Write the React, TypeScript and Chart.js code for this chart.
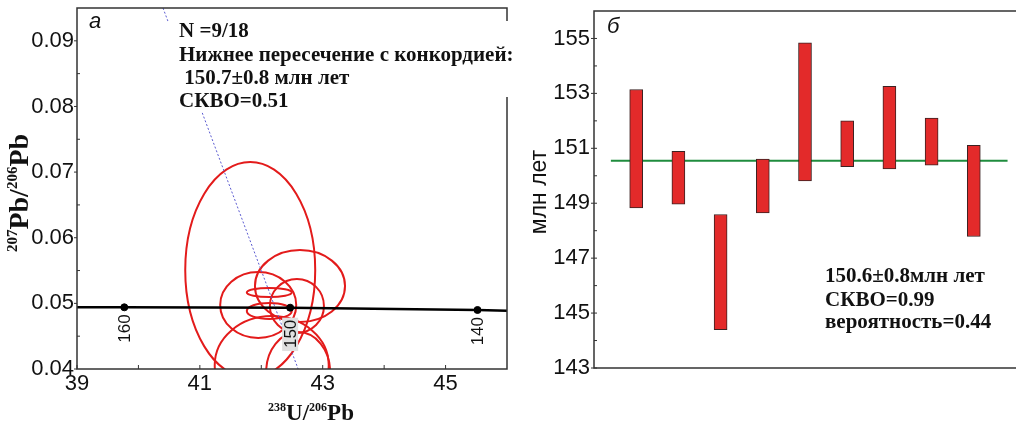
import React, { useEffect, useRef } from "react";
import { Chart, registerables } from "chart.js";

Chart.register(...registerables);

// ---------- Panel а : concordia diagram ----------
const xMajorA = [39, 41, 43, 45];
const xMinorA = [40, 42, 44];
const yMajorA = [0.04, 0.05, 0.06, 0.07, 0.08, 0.09];
const yMinorA = [0.045, 0.055, 0.065, 0.075, 0.085];

// error ellipses: centre (238U/206Pb, 207Pb/206Pb) and half-axes
const ellipseX = [41.82, 42.63, 41.95, 42.13, 42.13, 42.58, 42.17, 42.6];
const ellipseY = [0.05508, 0.05264, 0.04975, 0.05165, 0.04884, 0.0496, 0.0406, 0.03954];
const ellipseRX = [1.058, 0.733, 0.619, 0.366, 0.366, 0.44, 0.928, 0.521];
const ellipseRY = [0.01645, 0.00548, 0.00503, 0.00069, 0.00122, 0.00411, 0.00746, 0.00609];

const concordiaX = [39, 39.77, 42.47, 45.52, 46];
const concordiaY = [0.0494, 0.0494, 0.04934, 0.04899, 0.04888];
const ageMarkX = [39.77, 42.47, 45.52];
const ageMarkY = [0.0494, 0.04934, 0.04899];
const ageLabels = ["160", "150", "140"];
const shadedAge = "150";
const discordiaX = [40.4, 42.6];
const discordiaY = [0.095, 0.04];
const statsA = ["N =9/18", "Нижнее пересечение с конкордией:", " 150.7±0.8 млн лет", "СКВО=0.51"];

// ---------- Panel б : weighted mean ----------
const analysisIndex = [1, 2, 3, 4, 5, 6, 7, 8, 9];
const ageLow = [148.83, 148.97, 144.4, 148.65, 149.81, 150.33, 150.25, 150.39, 147.79];
const ageHigh = [153.14, 150.89, 148.59, 150.61, 154.84, 152.0, 153.26, 152.1, 151.11];
const weightedMean = 150.55;
const meanSpan = [0.4, 9.8];
const yMajorB = [143, 145, 147, 149, 151, 153, 155];
const yMinorB = [144, 146, 148, 150, 152, 154];
const statsB = ["150.6±0.8млн лет", "СКВО=0.99", "вероятность=0.44"];

const SANS = '"Liberation Sans", Arial, sans-serif';
const SERIF = '"Liberation Serif", "Times New Roman", serif';

function drawSup(ctx: CanvasRenderingContext2D, parts: [string, boolean][], x: number, y: number, main: string, sup: string, rise: number) {
  let w = 0;
  parts.forEach(([t, s]) => { ctx.font = s ? sup : main; w += ctx.measureText(t).width; });
  let cx = x - w / 2;
  ctx.textAlign = "left";
  ctx.textBaseline = "alphabetic";
  parts.forEach(([t, s]) => {
    ctx.font = s ? sup : main;
    ctx.fillText(t, cx, s ? y - rise : y);
    cx += ctx.measureText(t).width;
  });
}

const noPad = (s: any) => {
  s.paddingTop = 0;
  s.paddingBottom = 0;
  s.paddingLeft = 0;
  s.paddingRight = 0;
};

const panelAPlugin = {
  id: "panelA",
  beforeDatasetsDraw(chart: any) {
    const { ctx, chartArea: ca, scales } = chart;
    const x = scales.x, y = scales.y;
    ctx.save();
    ctx.beginPath();
    ctx.rect(ca.left, ca.top, ca.right - ca.left, ca.bottom - ca.top);
    ctx.clip();
    ctx.strokeStyle = "#e31b1b";
    ctx.lineWidth = 2;
    ellipseX.forEach((cx, i) => {
      const px = x.getPixelForValue(cx);
      const py = y.getPixelForValue(ellipseY[i]);
      const rx = Math.abs(x.getPixelForValue(cx + ellipseRX[i]) - px);
      const ry = Math.abs(y.getPixelForValue(ellipseY[i] + ellipseRY[i]) - py);
      ctx.beginPath();
      ctx.ellipse(px, py, rx, ry, 0, 0, Math.PI * 2);
      ctx.stroke();
    });
    ctx.restore();
  },
  afterDraw(chart: any) {
    const { ctx, chartArea: ca, scales } = chart;
    const x = scales.x, y = scales.y;
    ctx.save();
    // frame
    ctx.strokeStyle = "#333";
    ctx.lineWidth = 1.5;
    ctx.strokeRect(ca.left, ca.top, ca.right - ca.left, ca.bottom - ca.top);
    // ticks
    ctx.lineWidth = 1;
    ctx.beginPath();
    xMajorA.concat(xMinorA).forEach((v) => {
      const px = x.getPixelForValue(v);
      ctx.moveTo(px, ca.bottom);
      ctx.lineTo(px, ca.bottom - 4);
    });
    yMajorA.forEach((v) => {
      const py = y.getPixelForValue(v);
      ctx.moveTo(ca.left - 3, py);
      ctx.lineTo(ca.left, py);
    });
    yMinorA.forEach((v) => {
      const py = y.getPixelForValue(v);
      ctx.moveTo(ca.left, py);
      ctx.lineTo(ca.left + 3, py);
    });
    ctx.stroke();
    // age labels on concordia
    ctx.font = `17px ${SANS}`;
    ageLabels.forEach((lab, i) => {
      const px = x.getPixelForValue(ageMarkX[i]);
      const py = y.getPixelForValue(ageMarkY[i]);
      const shaded = lab === shadedAge;
      ctx.save();
      ctx.translate(px, py + (shaded ? 12 : 7));
      ctx.rotate(-Math.PI / 2);
      const w = ctx.measureText(lab).width;
      if (shaded) {
        ctx.fillStyle = "#e0e0e0";
        ctx.fillRect(-w - 3, -8, w + 5, 16);
      }
      ctx.fillStyle = "#111";
      ctx.textAlign = "right";
      ctx.textBaseline = "middle";
      ctx.fillText(lab, 0, 1);
      ctx.restore();
    });
    // white box behind statistics
    ctx.fillStyle = "#fff";
    ctx.fillRect(168, 21, 350, 76);
    ctx.fillRect(168, 97, 140, 15);
    ctx.fillStyle = "#111";
    ctx.font = `bold 21px ${SERIF}`;
    ctx.textAlign = "left";
    ctx.textBaseline = "alphabetic";
    const base = [37, 61, 84, 107];
    statsA.forEach((t, i) => ctx.fillText(t, 179, base[i]));
    // panel letter
    ctx.font = `italic 22px ${SANS}`;
    ctx.fillText("а", 89, 28);
    // axis titles
    drawSup(ctx, [["238", true], ["U/", false], ["206", true], ["Pb", false]], 311, 420,
      `bold 23px ${SERIF}`, `bold 12px ${SERIF}`, 9);
    ctx.save();
    ctx.translate(28, 193);
    ctx.rotate(-Math.PI / 2);
    drawSup(ctx, [["207", true], ["Pb/", false], ["206", true], ["Pb", false]], 0, 0,
      `bold 28px ${SERIF}`, `bold 15px ${SERIF}`, 11);
    ctx.restore();
    ctx.restore();
  },
};

const panelBPlugin = {
  id: "panelB",
  afterDraw(chart: any) {
    const { ctx, chartArea: ca, scales } = chart;
    const y = scales.y;
    ctx.save();
    ctx.strokeStyle = "#333";
    ctx.lineWidth = 1.5;
    ctx.beginPath();
    ctx.moveTo(chart.width, ca.top);
    ctx.lineTo(ca.left, ca.top);
    ctx.lineTo(ca.left, ca.bottom);
    ctx.lineTo(chart.width, ca.bottom);
    ctx.stroke();
    ctx.lineWidth = 1;
    ctx.beginPath();
    yMajorB.forEach((v) => {
      const py = y.getPixelForValue(v);
      ctx.moveTo(ca.left - 3, py);
      ctx.lineTo(ca.left + 3, py);
    });
    yMinorB.forEach((v) => {
      const py = y.getPixelForValue(v);
      ctx.moveTo(ca.left, py);
      ctx.lineTo(ca.left + 3, py);
    });
    ctx.stroke();
    ctx.fillStyle = "#111";
    ctx.font = `bold 21px ${SERIF}`;
    ctx.textAlign = "left";
    ctx.textBaseline = "alphabetic";
    const base = [282, 306, 328];
    statsB.forEach((t, i) => ctx.fillText(t, 305, base[i]));
    ctx.font = `italic 22px ${SANS}`;
    ctx.fillText("б", 87, 33);
    ctx.save();
    ctx.translate(20, 192);
    ctx.rotate(-Math.PI / 2);
    ctx.font = `23px ${SANS}`;
    ctx.textAlign = "center";
    ctx.textBaseline = "middle";
    ctx.fillText("млн лет", 0, 0);
    ctx.restore();
    ctx.restore();
  },
};

export default function App() {
  const refA = useRef<HTMLCanvasElement>(null);
  const refB = useRef<HTMLCanvasElement>(null);

  useEffect(() => {
    const tickFont = { family: SANS, size: 22 };
    const chartA = new Chart(refA.current as HTMLCanvasElement, {
      type: "scatter",
      data: {
        datasets: [
          {
            type: "line",
            data: concordiaX.map((v, i) => ({ x: v, y: concordiaY[i] })),
            borderColor: "#000",
            borderWidth: 2.5,
            pointRadius: 0,
          },
          {
            type: "line",
            data: discordiaX.map((v, i) => ({ x: v, y: discordiaY[i] })),
            borderColor: "#5a5ad0",
            borderWidth: 1,
            borderDash: [2, 2],
            pointRadius: 0,
          },
          {
            type: "scatter",
            data: ageMarkX.map((v, i) => ({ x: v, y: ageMarkY[i] })),
            pointRadius: 3.5,
            backgroundColor: "#000",
            borderColor: "#000",
          },
        ],
      } as any,
      options: {
        animation: false,
        responsive: false,
        events: [],
        layout: { padding: { top: 8, right: 13, left: 0, bottom: 0 } },
        plugins: { legend: { display: false }, tooltip: { enabled: false } },
        scales: {
          x: {
            type: "linear",
            min: 39,
            max: 46,
            grid: { display: false, drawTicks: false },
            border: { display: false },
            afterBuildTicks: (s: any) => { s.ticks = xMajorA.map((v) => ({ value: v })); },
            afterFit: (s: any) => { s.height = 54; noPad(s); },
            ticks: { font: tickFont, color: "#111", padding: 2, autoSkip: false, maxRotation: 0, callback: (v: any) => String(v) },
          },
          y: {
            type: "linear",
            min: 0.04,
            max: 0.095,
            grid: { display: false, drawTicks: false },
            border: { display: false },
            afterBuildTicks: (s: any) => { s.ticks = yMajorA.map((v) => ({ value: v })); },
            afterFit: (s: any) => { s.width = 77; noPad(s); },
            ticks: { font: tickFont, color: "#111", padding: 3, autoSkip: false, callback: (v: any) => Number(v).toFixed(2) },
          },
        },
      } as any,
      plugins: [panelAPlugin],
    });

    const chartB = new Chart(refB.current as HTMLCanvasElement, {
      type: "bar",
      data: {
        datasets: [
          {
            type: "bar",
            data: analysisIndex.map((v, i) => ({ x: v, y: [ageLow[i], ageHigh[i]] })),
            backgroundColor: "#e32a2a",
            borderColor: "#3a2222",
            borderWidth: 1,
            borderSkipped: false,
            barThickness: 13,
            order: 0,
          },
          {
            type: "line",
            data: meanSpan.map((v) => ({ x: v, y: weightedMean })),
            borderColor: "#1f8c3e",
            borderWidth: 2,
            pointRadius: 0,
            order: 1,
          },
        ],
      } as any,
      options: {
        animation: false,
        responsive: false,
        events: [],
        layout: { padding: { top: 11, bottom: 55, left: 0, right: 0 } },
        plugins: { legend: { display: false }, tooltip: { enabled: false } },
        scales: {
          x: { type: "linear", min: 0, max: 10, display: false, offset: false },
          y: {
            type: "linear",
            min: 143,
            max: 156,
            grid: { display: false, drawTicks: false },
            border: { display: false },
            afterBuildTicks: (s: any) => { s.ticks = yMajorB.map((v) => ({ value: v })); },
            afterFit: (s: any) => { s.width = 74; noPad(s); },
            ticks: { font: tickFont, color: "#111", padding: 4, autoSkip: false, callback: (v: any) => String(v) },
          },
        },
      } as any,
      plugins: [panelBPlugin],
    });

    return () => {
      chartA.destroy();
      chartB.destroy();
    };
  }, []);

  return (
    <div style={{ position: "absolute", left: 0, top: 0, width: 1016, height: 423, background: "#fff" }}>
      <canvas ref={refA} width={520} height={423} style={{ position: "absolute", left: 0, top: 0, width: 520, height: 423 }} />
      <canvas ref={refB} width={496} height={423} style={{ position: "absolute", left: 520, top: 0, width: 496, height: 423 }} />
    </div>
  );
}
